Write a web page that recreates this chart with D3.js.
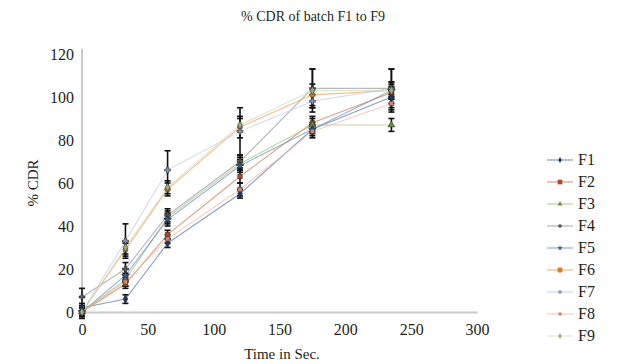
<!DOCTYPE html>
<html><head><meta charset="utf-8">
<script src="https://cdn.jsdelivr.net/npm/d3@7"></script>
<style>body{margin:0;background:#fff}svg{display:block}text{font-family:"Liberation Serif","DejaVu Serif",serif;fill:#231f20}</style>
</head><body><div id="chart"></div>
<script>
const times = [0, 33, 65, 120, 175, 235];
const seriesNames = ["F1","F2","F3","F4","F5","F6","F7","F8","F9"];
const F1 = [2, 6, 32, 55, 85, 100];
const F2 = [0, 13, 36, 63, 88, 102];
const F3 = [0, 15, 44, 69, 87, 87];
const F4 = [7, 20, 45, 70, 104, 104];
const F5 = [0, 17, 43, 68, 85, 103];
const F6 = [0, 29, 57, 86, 101, 103];
const F7 = [0, 33, 66, 84, 98, 104];
const F8 = [0, 14, 34, 57, 84, 97];
const F9 = [0, 30, 58, 87, 103, 103];
const E1 = [2, 2, 2, 2, 2, 3];
const E2 = [2, 2, 2, 3, 3, 3];
const E3 = [2, 3, 3, 3, 3, 3];
const E4 = [4, 3, 3, 3, 9, 9];
const E5 = [2, 3, 3, 3, 3, 3];
const E6 = [2, 3, 3, 5, 5, 4];
const E7 = [2, 8, 9, 11, 3, 3];
const E8 = [2, 2, 2, 3, 3, 3];
const E9 = [3, 3, 3, 3, 10, 10];
const xTicks = [0, 50, 100, 150, 200, 250, 300];
const yTicks = [0, 20, 40, 60, 80, 100, 120];
const colors = ["#5a78a8","#d07a50","#a8c47a","#9a9a9a","#6a92c4","#f4a15a","#c0cce6","#f2b8a4","#cfdcb8"];
const markerColors = ["#1f3864","#b04a1f","#6e8f3a","#595959","#2e5f9a","#e08020","#8896b8","#d08870","#98ac80"];
const symbols = [d3.symbolDiamond, d3.symbolSquare, d3.symbolTriangle, d3.symbolCross, d3.symbolStar, d3.symbolCircle, d3.symbolCross, d3.symbolSquare, d3.symbolDiamond];

const values = [F1,F2,F3,F4,F5,F6,F7,F8,F9];
const errs = [E1,E2,E3,E4,E5,E6,E7,E8,E9];

const W = 630, H = 364;
const svg = d3.select("#chart").append("svg").attr("width", W).attr("height", H);
const x = d3.scaleLinear().domain([0, 300]).range([82, 477]);
const y = d3.scaleLinear().domain([0, 120]).range([312, 54]);

const xAxis = svg.append("g").attr("transform", `translate(0,${y(0)})`)
  .call(d3.axisBottom(x).tickValues(xTicks).tickSize(0).tickPadding(12));
xAxis.select(".domain").attr("stroke", "#c8c8c8").attr("stroke-width", 2);
xAxis.selectAll("text").attr("font-size", 16).attr("font-family", "Liberation Serif");
const yAxis = svg.append("g").attr("transform", `translate(${x(0)},0)`)
  .call(d3.axisLeft(y).tickValues(yTicks).tickSize(0).tickPadding(8));
yAxis.select(".domain").attr("stroke", "#c8c8c8").attr("stroke-width", 2).attr("d", `M0,${y(0)}V${y(122.5)}`);
yAxis.selectAll("text").attr("font-size", 16).attr("font-family", "Liberation Serif");

const line = d3.line().x((d, i) => x(times[i])).y(d => y(d));

values.forEach((v, s) => {
  svg.append("path").datum(v).attr("d", line).attr("fill", "none")
    .attr("stroke", colors[s]).attr("stroke-width", 1.1).attr("stroke-opacity", 0.7);
});
values.forEach((v, s) => {
  const g = svg.append("g").attr("stroke", "#111").attr("stroke-width", 1.6);
  v.forEach((d, i) => {
    const e = errs[s][i], cx = x(times[i]);
    g.append("line").attr("x1", cx).attr("x2", cx).attr("y1", y(d - e)).attr("y2", y(d + e));
    g.append("line").attr("x1", cx - 3).attr("x2", cx + 3).attr("y1", y(d - e)).attr("y2", y(d - e));
    g.append("line").attr("x1", cx - 3).attr("x2", cx + 3).attr("y1", y(d + e)).attr("y2", y(d + e));
  });
});
values.forEach((v, s) => {
  svg.append("g").selectAll("path").data(v).join("path")
    .attr("transform", (d, i) => `translate(${x(times[i])},${y(d)})`)
    .attr("d", d3.symbol().type(symbols[s]).size(20))
    .attr("fill", markerColors[s]).attr("stroke", "#222").attr("stroke-width", 0.5);
});

const lg = svg.append("g");
seriesNames.forEach((n, s) => {
  const ly = 160 + s * 22;
  lg.append("line").attr("x1", 547).attr("x2", 573).attr("y1", ly).attr("y2", ly)
    .attr("stroke", colors[s]).attr("stroke-width", 1.1).attr("stroke-opacity", 0.8);
  lg.append("path").attr("transform", `translate(560,${ly})`)
    .attr("d", d3.symbol().type(symbols[s]).size(s === 5 || s === 1 ? 22 : 10)).attr("fill", markerColors[s]);
  lg.append("text").attr("x", 578).attr("y", ly + 5).attr("font-size", 16).text(n);
});

svg.append("text").attr("x", 313).attr("y", 21).attr("text-anchor", "middle").attr("font-size", 14)
  .text("% CDR of batch F1 to F9");
svg.append("text").attr("x", 282).attr("y", 359).attr("text-anchor", "middle").attr("font-size", 15)
  .text("Time in Sec.");
svg.append("text").attr("transform", "translate(38,183) rotate(-90)").attr("text-anchor", "middle").attr("font-size", 15)
  .text("% CDR");
</script></body></html>
